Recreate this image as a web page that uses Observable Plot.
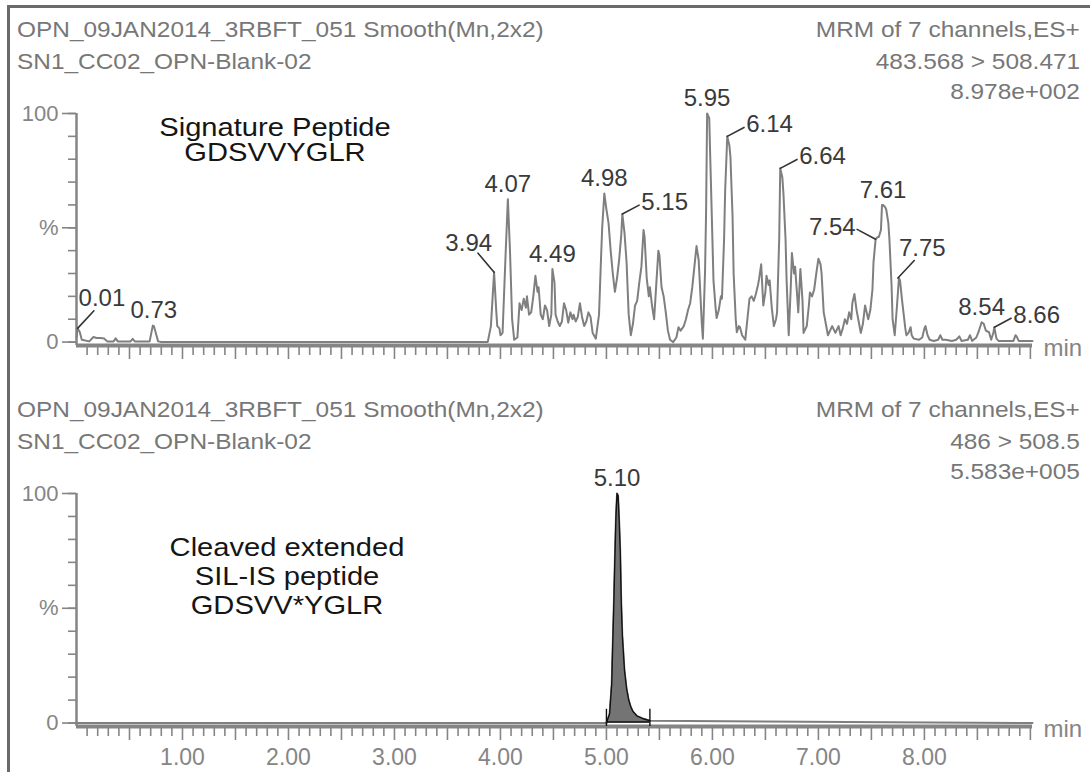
<!DOCTYPE html>
<html>
<head>
<meta charset="utf-8">
<script src="https://cdn.jsdelivr.net/npm/d3@7"></script>
<script src="https://cdn.jsdelivr.net/npm/@observablehq/plot@0.6"></script>
<style>
  body { margin: 0; background: #fff; }
  #page { position: relative; width: 1090px; height: 772px; overflow: hidden;
          font-family: "Liberation Sans", Arial, sans-serif; background: #fff; }
  #frame { position: absolute; left: 7px; top: 5px; width: 1300px; height: 1000px;
           border-top: 3px solid #6a6a6a; border-left: 3px solid #6a6a6a; }
  .t { position: absolute; white-space: pre; }
  .panel { position: absolute; left: 0; }
  svg { display: block; overflow: visible; }
</style>
</head>
<body>
<div id="page"><div id="frame"></div></div>
<script>
// ---------------- data ----------------
const topHeaderLeft = ["OPN_09JAN2014_3RBFT_051 Smooth(Mn,2x2)", "SN1_CC02_OPN-Blank-02"];
const topHeaderRight = ["MRM of 7 channels,ES+", "483.568 > 508.471", "8.978e+002"];
const bottomHeaderLeft = ["OPN_09JAN2014_3RBFT_051 Smooth(Mn,2x2)", "SN1_CC02_OPN-Blank-02"];
const bottomHeaderRight = ["MRM of 7 channels,ES+", "486 > 508.5", "5.583e+005"];
const topNote = ["Signature Peptide", "GDSVVYGLR"];
const bottomNote = ["Cleaved extended", "SIL-IS peptide", "GDSVV*YGLR"];
const xTickLabels = [1, 2, 3, 4, 5, 6, 7, 8];
const yTickLabels = [[0, "0"], [50, "%"], [100, "100"]];

// Signature peptide trace (retention time, min  /  relative intensity, %)
const topTime = [0.00,0.01,0.03,0.05,0.12,0.16,0.19,0.23,0.26,0.29,0.35,0.37,0.39,0.51,0.53,0.55,0.69,0.72,0.73,0.745,0.77,0.80,
  3.88,3.91,3.94,3.96,3.97,3.99,4.00,4.02,4.05,4.07,4.09,4.11,4.13,4.16,4.18,4.20,4.22,4.24,4.25,4.27,4.29,4.31,4.33,4.35,4.36,4.38,4.40,4.42,4.44,4.46,4.48,4.49,
  4.51,4.52,4.54,4.56,4.58,4.60,4.62,4.64,4.66,4.68,4.69,4.71,4.73,4.75,4.77,4.79,4.81,4.83,4.85,4.87,4.90,4.93,4.95,4.96,4.98,5.00,
  5.02,5.04,5.06,5.08,5.10,5.12,5.14,5.15,5.17,5.19,5.21,5.23,5.25,5.27,5.29,5.31,5.33,5.35,5.36,5.38,5.40,5.41,5.43,5.45,5.47,5.49,5.50,
  5.52,5.54,5.56,5.58,5.60,5.63,5.66,5.68,5.70,5.73,5.75,5.77,5.79,5.81,5.83,5.85,5.87,5.88,5.90,5.91,5.93,5.94,5.95,5.97,5.98,6.00,
  6.01,6.03,6.04,6.06,6.08,6.09,6.11,6.12,6.14,6.16,6.17,6.19,6.20,6.22,6.23,6.25,6.26,6.28,6.31,6.33,6.35,6.37,6.39,6.41,6.43,6.44,6.46,6.48,6.50,
  6.51,6.53,6.54,6.56,6.58,6.60,6.61,6.63,6.64,6.66,6.67,6.69,6.70,6.72,6.74,6.75,6.77,6.78,6.80,6.81,6.83,6.85,6.86,6.88,6.89,6.91,6.92,6.94,6.96,6.98,7.00,
  7.02,7.03,7.05,7.07,7.09,7.11,7.13,7.15,7.16,7.19,7.21,7.23,7.25,7.27,7.29,7.31,7.32,7.34,7.36,7.38,7.40,7.42,7.44,7.46,7.47,7.49,7.51,7.52,7.54,7.56,7.57,7.59,7.60,7.61,
  7.63,7.64,7.66,7.67,7.69,7.70,7.72,7.74,7.76,7.77,7.79,7.80,7.82,7.83,7.85,7.87,7.88,7.90,7.95,7.98,8.00,8.01,8.03,8.05,8.09,8.13,8.15,8.17,8.20,8.26,8.30,8.33,8.35,
  8.41,8.43,8.45,8.49,8.51,8.54,8.56,8.58,8.61,8.63,8.65,8.66,8.68,8.70,8.84,8.86,8.87,8.89,9.02];
const topPct = [2,6,4.5,1,0.3,2.2,1.8,1.8,1.6,0.3,0.3,1.6,0.3,0.3,1.4,0.3,0.3,7.2,7,4.5,0.3,0,
  0,7,30.5,14,7,6,3,4,40,62.5,40,10,1,2,17,14,19,15,20,12,13,20,29,22,24,12,10,16,14,7,12,32,
  26,12,9,7,9,17,14,8.5,13,10,12,9,11,17,11,7,9,13,11,4,1.5,12,38,50,65,58,
  52,40,30,22,28,36,47,56,48,35,12,3,8,16,18,26,33,49,46,28,20,24,16,10,25,40,38,
  24,20,13,5,1,0,2,6.5,5,7,10,14,17,24,33,42,36,27,8,1.5,30,56,100,98,80,45,
  27,15,10.5,14,20,19,45,66,90,86,81,55,30,10,4.3,7,6.5,3,1,10,19,20,18,21,25,27.5,34,16,22,
  29,25,27,15,7,10,13,45,76,72,65,45,27,3,25,39,30,33,20,13,32,18,4,6,7,16,21.7,20,23,30,36.5,
  34,30,13,8,3,5,7,5,4,7,3,6,10,8,13,10,17,21,14,9,4,8,16,12,10,14,23,35,45,46,46,49,60,60,
  59,58,52,45,25,10,3,15,28,27,18,14,6,3,4,6.5,3,1.5,1,2,6,7,3,1,0.5,1,3,1,1,0.5,1,2.5,0.5,
  1,3,0.5,2,4.3,8.7,8,5,4.3,1,4,6.5,1.5,0.5,0.5,3,2.5,0.5,0.5];
const topLabelTime = [0.01, 0.73, 3.94, 4.07, 4.49, 4.98, 5.15, 5.95, 6.14, 6.64, 7.54, 7.61, 7.75, 8.54, 8.66];
const topLabelPct  = [6, 7.2, 30.5, 62.5, 32, 65, 56, 100, 90, 76, 45, 60, 28, 8.7, 6.5];

// Cleaved extended SIL-IS peptide trace
const bottomTime = [0.00, 5.00, 5.03, 5.05, 5.06, 5.07, 5.08, 5.09, 5.10, 5.11, 5.12, 5.13, 5.14, 5.15, 5.17, 5.19, 5.21, 5.23, 5.25, 5.29, 5.34, 5.41, 9.02];
const bottomPct  = [0, 0, 4, 17, 35, 52, 72, 90, 100, 99, 88, 75, 52, 38, 23, 15, 10, 7, 5, 3, 2, 1, 0];
const bottomLabelTime = [5.10];
const bottomLabelPct = [100];
const bottomIntegration = [5.00, 5.41];

// ---------------- layout / style ----------------
const FONT = '"Liberation Sans", Arial, sans-serif';
const xDomain = [0, 9.02];
const yDomain = [-1.5, 100];
const axisGray = "#858585";
const labelInk = "#3a3a3a";
const placeOf = {"0.01": "urSteep", "3.94": "ulSteep", "5.15": "ur", "6.14": "ur", "6.64": "ur",
                 "7.54": "ul", "7.75": "urSteep", "8.66": "ur"};
const placements = {
  above:   {dx: 0,   dy: -15, textAnchor: "middle"},
  ur:      {dx: 19,  dy: -12, textAnchor: "start", rotate: 62,  length: 19},
  urSteep: {dx: 1,   dy: -30, textAnchor: "start", rotate: 43,  length: 24},
  ul:      {dx: -20, dy: -12, textAnchor: "end",   rotate: -62, length: 21},
  ulSteep: {dx: -2,  dy: -29, textAnchor: "end",   rotate: -40, length: 25}
};
const leaderShape = {draw(context, l) { context.moveTo(0, 0); context.lineTo(0, -l); }};

function panel({time, pct, labelTime, labelPct, height, marginTop, marginBottom, tickLabels, integration}) {
  const trace = time.map((t, i) => ({t, v: pct[i]}));
  const labs = labelTime.map((t, i) => {
    const text = d3.format(".2f")(t);
    return {t, v: labelPct[i], text, place: placeOf[text] || "above"};
  });
  const minorX = d3.range(1, 91).map(i => i / 10).filter(d => Math.round(d * 10) % 5 !== 0);
  const majorX = d3.range(1, 19).map(i => i / 2);
  const marks = [
    Plot.ruleY([yDomain[0]], {stroke: axisGray, strokeWidth: 4}),
    Plot.ruleX([xDomain[0]], {stroke: axisGray, strokeWidth: 2.5}),
    Plot.axisX({ticks: minorX, tickSize: 10, tickFormat: () => "", label: null, stroke: axisGray, strokeWidth: 1.6}),
    Plot.axisX({ticks: majorX, tickSize: 14, tickFormat: () => "", label: null, stroke: axisGray, strokeWidth: 1.6}),
    Plot.axisY({ticks: d3.range(0, 101, 10), tickSize: 8, tickFormat: () => "", label: null, stroke: axisGray, strokeWidth: 1.6}),
    Plot.axisY({ticks: yTickLabels.map(d => d[0]), tickSize: 14, tickPadding: 4, label: null, stroke: axisGray, strokeWidth: 1.6,
                tickFormat: v => (yTickLabels.find(d => d[0] === v) || [0, ""])[1], fill: axisGray, fontSize: 22}),
    Plot.text(["min"], {frameAnchor: "bottom-right", dx: 11, dy: 3, textAnchor: "start", lineAnchor: "middle",
                        fill: axisGray, fontSize: 24})
  ];
  if (tickLabels) {
    marks.push(Plot.axisX({ticks: xTickLabels, tickSize: 0, tickPadding: 22, label: null, tickFormat: d3.format(".2f"),
                           fill: axisGray, fontSize: 23}));
  }
  if (integration) {
    const [a, b] = integration;
    const inside = trace.filter(d => d.t >= a && d.t <= b);
    marks.push(Plot.areaY(inside, {x: "t", y: "v", fill: "#747474"}));
    marks.push(Plot.lineY(trace, {x: "t", y: "v", stroke: "#7f7f7f", strokeWidth: 2}));
    marks.push(Plot.lineY(inside, {x: "t", y: "v", stroke: "#111", strokeWidth: 1.4}));
    marks.push(Plot.ruleY([0.5], {x1: a, x2: b, stroke: "#111", strokeWidth: 1.5}));
    marks.push(Plot.ruleX(integration, {y1: -1.5, y2: 6, stroke: "#111", strokeWidth: 1.4}));
  } else {
    marks.push(Plot.lineY(trace, {x: "t", y: "v", stroke: "#7f7f7f", strokeWidth: 2}));
  }
  for (const [key, p] of Object.entries(placements)) {
    const sub = labs.filter(d => d.place === key);
    if (!sub.length) continue;
    if (p.length) {
      marks.push(Plot.vector(sub, {x: "t", y: "v", length: p.length, rotate: p.rotate, anchor: "start",
                                   shape: leaderShape, stroke: "#333", strokeWidth: 1.6}));
    }
    marks.push(Plot.text(sub, {x: "t", y: "v", text: "text", dx: p.dx, dy: p.dy, textAnchor: p.textAnchor,
                               lineAnchor: "middle", fill: labelInk, fontSize: 24}));
  }
  return Plot.plot({
    width: 1090, height, marginLeft: 76, marginRight: 58, marginTop, marginBottom,
    x: {domain: xDomain, axis: null},
    y: {domain: yDomain, axis: null},
    style: {fontFamily: FONT, fontSize: "23px", color: axisGray, background: "transparent"},
    marks
  });
}

const page = document.getElementById("page");
// places a (possibly multi-line) text block whose first line's capitals are centred on yc,
// lines spaced by L pixels, horizontally stretched by sx
function put(lines, x, yc, fs, L, color, align, sx) {
  const d = document.createElement("div");
  d.className = "t";
  d.textContent = [].concat(lines).join("\n");
  d.style.fontSize = fs + "px";
  d.style.lineHeight = L + "px";
  d.style.color = color;
  d.style.top = (yc - (L / 2 - 0.0115 * fs)) + "px";
  d.style.transform = `scaleX(${sx})`;
  if (align === "left") { d.style.left = x + "px"; d.style.transformOrigin = "0 50%"; }
  else if (align === "right") { d.style.right = (1090 - x) + "px"; d.style.transformOrigin = "100% 50%"; }
  else { d.style.left = (x - 300) + "px"; d.style.width = "600px"; d.style.textAlign = "center"; d.style.transformOrigin = "50% 50%"; }
  page.appendChild(d);
}

const topSvg = panel({time: topTime, pct: topPct, labelTime: topLabelTime, labelPct: topLabelPct,
                      height: 384, marginTop: 113, marginBottom: 39, tickLabels: false});
const bottomSvg = panel({time: bottomTime, pct: bottomPct, labelTime: bottomLabelTime, labelPct: bottomLabelPct,
                         height: 388, marginTop: 109, marginBottom: 46, tickLabels: true, integration: bottomIntegration});
const w1 = document.createElement("div"); w1.className = "panel"; w1.style.top = "0px"; w1.appendChild(topSvg);
const w2 = document.createElement("div"); w2.className = "panel"; w2.style.top = "384px"; w2.appendChild(bottomSvg);
page.appendChild(w1); page.appendChild(w2);

const hdrColor = "#777";
topHeaderLeft.forEach((s, i) => put(s, 17, [30, 62][i], 22, 20, hdrColor, "left", 1.11));
topHeaderRight.forEach((s, i) => put(s, 1080, [30, 62, 92][i], 22, 20, hdrColor, "right", 1.11));
bottomHeaderLeft.forEach((s, i) => put(s, 17, [410, 442][i], 22, 20, hdrColor, "left", 1.11));
bottomHeaderRight.forEach((s, i) => put(s, 1080, [410, 442, 472][i], 22, 20, hdrColor, "right", 1.11));
put(topNote, 275, 127.5, 26, 25, "#151515", "center", 1.12);
put(bottomNote, 287, 547, 26, 29, "#151515", "center", 1.12);
</script>
</body>
</html>
